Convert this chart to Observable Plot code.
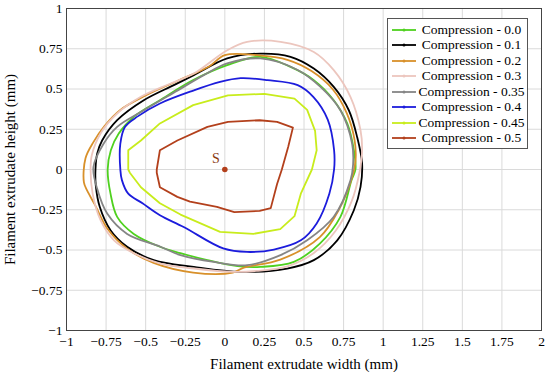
<!DOCTYPE html>
<html>
<head>
<meta charset="utf-8">
<script src="https://cdn.jsdelivr.net/npm/d3@7"></script>
<script src="https://cdn.jsdelivr.net/npm/@observablehq/plot@0.6"></script>
<style>
  html, body { margin:0; padding:0; background:#fff; }
  #wrap { position:relative; width:550px; height:372px; }
  #legend { position:absolute; left:387px; top:18px; width:141px; height:131px; border:1px solid #555; background:#fff; box-sizing:border-box; padding-top:3px;
    font-family:"Liberation Serif","Times New Roman","DejaVu Serif",serif; font-size:13.5px; }
  .row { display:flex; align-items:center; height:15.5px; }
  .row svg { margin-left:4px; flex:none; }
  .row span { flex:1; text-align:center; white-space:nowrap; }
</style>
</head>
<body>
<div id="wrap"><div id="legend"></div></div>
<script>
// Series names and colours
const seriesNames = ["Compression - 0.0","Compression - 0.1","Compression - 0.2","Compression - 0.3","Compression - 0.35","Compression - 0.4","Compression - 0.45","Compression - 0.5"];
const seriesColors = ["#4fd11f","#000000","#d8902a","#ecc6be","#858585","#1c1cdc","#c8ec1c","#b3401c"];

// Compression 0.0
const x00 = [-0.74,-0.72,-0.67,-0.575,-0.41,-0.2,0.015,0.225,0.415,0.562,0.688,0.773,0.815,0.825,0.80,0.73,0.60,0.436,0.225,0.08,-0.11,-0.28,-0.41,-0.575,-0.68,-0.722];
const y00 = [0,0.12,0.224,0.327,0.43,0.555,0.648,0.70,0.637,0.555,0.43,0.286,0.12,0,-0.066,-0.294,-0.46,-0.574,-0.605,-0.60,-0.563,-0.52,-0.48,-0.40,-0.294,-0.15];
// Compression 0.1
const x01 = [-0.817,-0.806,-0.775,-0.68,-0.512,-0.322,-0.196,0.015,0.225,0.415,0.562,0.688,0.783,0.836,0.867,0.857,0.815,0.71,0.562,0.394,0.099,-0.196,-0.449,-0.617,-0.722,-0.79,-0.815];
const y01 = [0,0.1,0.18,0.306,0.43,0.524,0.586,0.69,0.72,0.70,0.627,0.513,0.368,0.2,0.037,-0.108,-0.253,-0.44,-0.563,-0.615,-0.636,-0.605,-0.563,-0.48,-0.377,-0.232,-0.1];
// Compression 0.2
const x02 = [-0.89,-0.88,-0.83,-0.76,-0.66,-0.5,-0.3,-0.1,0.0,0.2,0.4,0.55,0.68,0.77,0.82,0.825,0.80,0.72,0.60,0.35,0.12,0.05,-0.2,-0.45,-0.62,-0.74,-0.82,-0.87];
const y02 = [-0.08,0.07,0.17,0.27,0.37,0.46,0.55,0.64,0.71,0.71,0.68,0.61,0.5,0.35,0.18,0.05,-0.06,-0.25,-0.42,-0.56,-0.61,-0.64,-0.64,-0.58,-0.49,-0.37,-0.22,-0.13];
// Compression 0.3
const x03 = [-0.848,-0.84,-0.785,-0.68,-0.533,-0.343,-0.196,0.015,0.141,0.352,0.562,0.688,0.794,0.857,0.867,0.85,0.80,0.70,0.56,0.40,0.2,0.057,-0.196,-0.406,-0.575,-0.70,-0.785,-0.835];
const y03 = [0,0.09,0.224,0.348,0.45,0.534,0.596,0.741,0.793,0.793,0.73,0.617,0.45,0.244,0.12,-0.02,-0.2,-0.38,-0.52,-0.6,-0.63,-0.636,-0.615,-0.584,-0.52,-0.44,-0.315,-0.15];
// Compression 0.35
const x035 = [-0.83,-0.766,-0.68,-0.512,-0.30,-0.133,0.015,0.225,0.457,0.604,0.73,0.804,0.81,0.794,0.688,0.52,0.352,0.141,-0.07,-0.28,-0.406,-0.617,-0.743,-0.806];
const y035 = [0.015,0.16,0.265,0.368,0.49,0.586,0.659,0.69,0.62,0.513,0.368,0.16,0.03,-0.066,-0.294,-0.44,-0.532,-0.594,-0.574,-0.532,-0.48,-0.40,-0.274,-0.12];
// Compression 0.4
const x04 = [-0.66,-0.66,-0.63,-0.55,-0.41,-0.2,-0.03,0.1,0.27,0.46,0.56,0.65,0.69,0.69,0.66,0.58,0.48,0.31,0.14,-0.01,-0.26,-0.41,-0.52,-0.61,-0.65];
const y04 = [0,0.16,0.265,0.33,0.41,0.49,0.544,0.567,0.555,0.524,0.45,0.31,0.12,0,-0.15,-0.335,-0.44,-0.497,-0.512,-0.49,-0.357,-0.284,-0.21,-0.15,-0.066];
// Compression 0.45
const x045 = [-0.61,-0.61,-0.53,-0.41,-0.2,0.02,0.25,0.44,0.52,0.57,0.58,0.55,0.48,0.44,0.35,0.18,-0.03,-0.28,-0.41,-0.53,-0.6];
const y045 = [0,0.12,0.18,0.286,0.40,0.46,0.47,0.44,0.37,0.24,0.12,0,-0.15,-0.29,-0.37,-0.40,-0.387,-0.28,-0.21,-0.11,-0.02];
// Compression 0.5
const x05 = [-0.43,-0.41,-0.30,-0.11,0.02,0.22,0.33,0.43,0.40,0.36,0.33,0.29,0.22,0.06,-0.05,-0.22,-0.30,-0.41,-0.43,-0.43];
const y05 = [0,0.12,0.18,0.265,0.296,0.306,0.296,0.26,0.14,0,-0.09,-0.24,-0.257,-0.265,-0.232,-0.2,-0.17,-0.11,-0.02,0];

const seriesX = [x00,x01,x02,x03,x035,x04,x045,x05];
const seriesY = [y00,y01,y02,y03,y035,y04,y045,y05];
const smoothFlags = [true,true,true,true,true,true,false,false];

// Source point
const sX = [0], sY = [0], sLabel = ["S"];

// Tick values
const xTicks = [-1,-0.75,-0.5,-0.25,0,0.25,0.5,0.75,1,1.25,1.5,1.75,2];
const yTicks = [-1,-0.75,-0.5,-0.25,0,0.25,0.5,0.75,1];

const fmt = d => String(d).replace("-", "\u2212");
const serif = "'Liberation Serif','Times New Roman','DejaVu Serif',serif";

const lineMarks = seriesX.map((xs, i) => {
  const pts = xs.map((x, j) => ({x, y: seriesY[i][j]}));
  return Plot.line(pts, {x:"x", y:"y", stroke: seriesColors[i], strokeWidth: 1.8,
    curve: smoothFlags[i] ? "catmull-rom-closed" : "linear-closed"});
});

const chart = Plot.plot({
  width: 550, height: 372,
  marginLeft: 66, marginRight: 9, marginTop: 8, marginBottom: 42,
  style: {fontFamily: serif, fontSize: "13.5px", background: "#fff", color: "#000"},
  x: {domain: [-1, 2]},
  y: {domain: [-1, 1]},
  marks: [
    Plot.gridX(xTicks, {stroke: "#dadada", strokeOpacity: 1}),
    Plot.gridY(yTicks, {stroke: "#dadada", strokeOpacity: 1}),
    Plot.axisX(xTicks, {tickSize: 0, tickPadding: 6, tickFormat: fmt, label: null, fontFamily: serif, fontSize: 13.5}),
    Plot.axisY(yTicks, {tickSize: 0, tickPadding: 4, tickFormat: fmt, label: null, fontFamily: serif, fontSize: 13.5}),
    Plot.axisX([], {label: "Filament extrudate width (mm)", labelAnchor: "center", labelOffset: 38, labelArrow: "none", fontSize: 15, fontFamily: serif}),
    Plot.axisY([], {label: "Filament extrudate height (mm)", labelAnchor: "center", labelOffset: 62, labelArrow: "none", fontSize: 15, fontFamily: serif}),
    ...lineMarks,
    Plot.dot(sX.map((x, i) => ({x, y: sY[i]})), {x: "x", y: "y", r: 2.8, fill: "#b3401c", stroke: "none"}),
    Plot.text(sX.map((x, i) => ({x, y: sY[i], t: sLabel[i]})), {x: "x", y: "y", text: "t", dx: -9, dy: -11, fill: "#8a3a12", fontSize: 14, fontFamily: serif}),
    Plot.frame({stroke: "#444", strokeWidth: 1})
  ]
});
document.getElementById("wrap").prepend(chart);

const legend = document.getElementById("legend");
seriesNames.forEach((name, i) => {
  const row = document.createElement("div");
  row.className = "row";
  row.innerHTML = `<svg width="24" height="8"><line x1="0" y1="4" x2="24" y2="4" stroke="${seriesColors[i]}" stroke-width="1.8"/><circle cx="12" cy="4" r="1.5" fill="${seriesColors[i]}"/></svg><span>${name}</span>`;
  legend.appendChild(row);
});
</script>
</body>
</html>
